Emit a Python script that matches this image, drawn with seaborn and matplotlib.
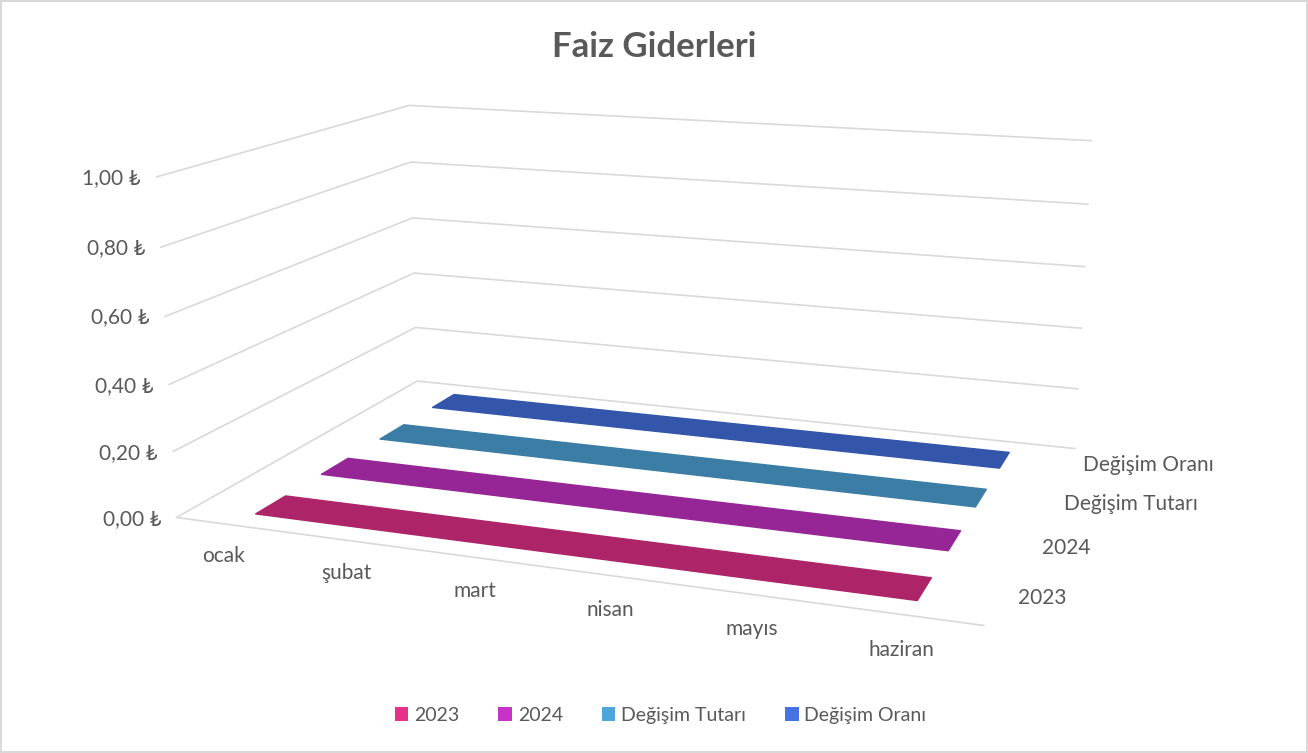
import numpy as np
import pandas as pd
import seaborn as sns
import matplotlib.pyplot as plt
from matplotlib.colors import to_rgb
from matplotlib.patches import Patch
from matplotlib.ticker import FuncFormatter
from matplotlib.transforms import ScaledTranslation

# veriler (tablodaki tum degerler sifir)
aylar = ['ocak', 'şubat', 'mart', 'nisan', 'mayıs', 'haziran']
seriler = ['2023', '2024', 'Değişim Tutarı', 'Değişim Oranı']
faiz_2023 = [0, 0, 0, 0, 0, 0]
faiz_2024 = [0, 0, 0, 0, 0, 0]
degisim_tutari = [0, 0, 0, 0, 0, 0]
degisim_orani = [0, 0, 0, 0, 0, 0]
renkler = ['#E7308A', '#C832C8', '#4EA6DC', '#4472E4']

df = pd.DataFrame({'ay': aylar, '2023': faiz_2023, '2024': faiz_2024,
                   'Değişim Tutarı': degisim_tutari, 'Değişim Oranı': degisim_orani})
df = df.melt(id_vars='ay', var_name='seri', value_name='deger')

sns.set_theme(style='white')
plt.rcParams['font.family'] = ['Lato', 'DejaVu Sans']
yazi_rengi = '#595959'
cizgi_rengi = '#d9d9d9'

fig = plt.figure(figsize=(13.08, 7.53), dpi=100)
fig.patch.set_edgecolor(cizgi_rengi)
fig.patch.set_linewidth(1.5)

ax = fig.add_axes([0.139, 0.068, 0.70, 0.98], projection='3d')
ax.set_facecolor((1, 1, 1, 0))
ax.set_proj_type('persp', focal_length=0.5)
ax.view_init(elev=14.0, azim=-70)
ax.set_box_aspect((888, 588, 377), zoom=1.313)

palet = sns.color_palette(renkler)
for i, seri in enumerate(seriler):
    d = df[df['seri'] == seri]
    x = np.array([aylar.index(a) for a in d['ay']], dtype=float)
    z = d['deger'].to_numpy(dtype=float)
    koyu = tuple(np.array(to_rgb(palet[i])) * 0.75)
    serit = ax.fill_between(x, np.full(len(x), i - 0.22), z, x, np.full(len(x), i + 0.22), z,
                            color=koyu, edgecolor=koyu, shade=False)
    serit.set_clip_on(False)

xlim = (-0.5, len(aylar) - 0.5)
ylim = (-0.5, len(seriler) - 0.5)
ax.set_xlim(*xlim)
ax.set_ylim(*ylim)
ax.set_zlim(0, 1.0)
ax.set_xticks(range(len(aylar)))
ax.set_xticklabels(aylar)
ax.set_yticks(range(len(seriler)))
ax.set_yticklabels(seriler, ha='left', va='bottom')
ax.set_zticks(np.arange(0, 1.01, 0.2))
ax.zaxis.set_major_formatter(FuncFormatter(lambda v, p: f'{v:.2f} ₺'.replace('.', ',')))
ax.tick_params(labelsize=15, colors=yazi_rengi)
ax.zaxis.set_tick_params(pad=-4)
ax.yaxis.set_tick_params(pad=-2)
for t in ax.get_zticklabels():
    t.set_ha('right')
    t.set_va('center')
kaydir = ScaledTranslation(18 / 100, 4 / 100, fig.dpi_scale_trans)
for t in ax.get_xticklabels():
    t.set_transform(t.get_transform() + kaydir)

ax.grid(True)
for eksen in (ax.xaxis, ax.yaxis, ax.zaxis):
    eksen._axinfo['tick']['inward_factor'] = 0
    eksen._axinfo['tick']['outward_factor'] = 0
    eksen.line.set_color((0, 0, 0, 0))
    eksen.set_pane_color((1, 1, 1, 0))
ax.zaxis._axinfo['juggled'] = (1, 2, 0)
ax.xaxis._axinfo['grid']['color'] = (1, 1, 1, 0)
ax.yaxis._axinfo['grid']['color'] = (1, 1, 1, 0)
ax.zaxis._axinfo['grid']['color'] = cizgi_rengi
ax.zaxis._axinfo['grid']['linewidth'] = 1.2
# zeminin on kenari (sol ve arka kenarlar 0 izgara cizgisiyle cakisiyor)
ax.plot(xlim, [ylim[0], ylim[0]], [0, 0], color=cizgi_rengi, lw=1.2, clip_on=False)

fig.text(0.5, 1 - 47 / 753, 'Faiz Giderleri', ha='center', va='center',
         fontsize=25, fontweight='bold', color=yazi_rengi)

tutamaclar = [Patch(facecolor=c, edgecolor='none', label=s) for c, s in zip(palet, seriler)]
fig.legend(handles=tutamaclar, loc='center', bbox_to_anchor=(0.505, 0.05), ncol=4,
           frameon=False, fontsize=14, handlelength=0.7, handleheight=0.7,
           handletextpad=0.3, columnspacing=2.0, labelcolor=yazi_rengi)

fig.savefig('out.png', dpi=100)
